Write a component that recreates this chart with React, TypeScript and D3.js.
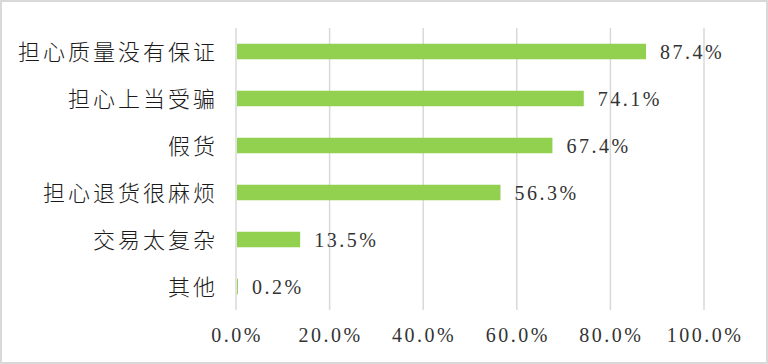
import * as d3 from "d3";
import React, { useEffect, useRef } from "react";

const categories = ["担心质量没有保证", "担心上当受骗", "假货", "担心退货很麻烦", "交易太复杂", "其他"];
const values = [87.4, 74.1, 67.4, 56.3, 13.5, 0.2];
const tickValues = [0, 20, 40, 60, 80, 100];

export default function App() {
  const ref = useRef<SVGSVGElement>(null);
  const width = 768;
  const height = 364;

  useEffect(() => {
    const svg = d3.select(ref.current);
    svg.selectAll("*").remove();

    const margin = { top: 28, right: 64, bottom: 54, left: 236 };

    const x = d3.scaleLinear().domain([0, 100]).range([margin.left, margin.left + 468]);
    const y = d3
      .scaleBand()
      .domain(categories)
      .range([margin.top, height - margin.bottom])
      .paddingInner(0.67)
      .paddingOuter(0.335);

    // marco del gráfico
    svg
      .append("rect")
      .attr("x", 1)
      .attr("y", 1)
      .attr("width", width - 2)
      .attr("height", height - 2)
      .attr("fill", "#fff")
      .attr("stroke", "#d9d9d9")
      .attr("stroke-width", 2);

    // líneas verticales
    svg
      .append("g")
      .selectAll("line")
      .data(tickValues)
      .join("line")
      .attr("x1", (d) => x(d))
      .attr("x2", (d) => x(d))
      .attr("y1", margin.top)
      .attr("y2", height - margin.bottom)
      .attr("stroke", "#d9d9d9")
      .attr("stroke-width", 1.5);

    // etiquetas del eje x
    svg
      .append("g")
      .selectAll("text")
      .data(tickValues)
      .join("text")
      .attr("x", (d) => x(d) + 1)
      .attr("y", 335)
      .attr("dy", "0.35em")
      .attr("text-anchor", "middle")
      .style("font-family", "'Liberation Serif', 'DejaVu Serif', serif")
      .style("font-size", "20px")
      .style("letter-spacing", "2.5px")
      .attr("fill", "#333")
      .text((d) => d.toFixed(1) + "%");

    // barras
    svg
      .append("g")
      .selectAll("rect")
      .data(values)
      .join("rect")
      .attr("x", x(0) + 1)
      .attr("y", (_, i) => y(categories[i])!)
      .attr("width", (d) => x(d) - x(0))
      .attr("height", y.bandwidth())
      .attr("fill", "#92d050");

    // etiquetas de valores
    svg
      .append("g")
      .selectAll("text")
      .data(values)
      .join("text")
      .attr("x", (d) => x(d) + 15)
      .attr("y", (_, i) => y(categories[i])! + y.bandwidth() / 2)
      .attr("dy", "0.35em")
      .style("font-family", "'Liberation Serif', 'DejaVu Serif', serif")
      .style("font-size", "20px")
      .style("letter-spacing", "2.5px")
      .attr("fill", "#333")
      .text((d) => d.toFixed(1) + "%");

    // etiquetas de categorías
    svg
      .append("g")
      .selectAll("text")
      .data(categories)
      .join("text")
      .attr("x", 218)
      .attr("y", (d) => y(d)! + y.bandwidth() / 2)
      .attr("dy", "0.37em")
      .attr("text-anchor", "end")
      .style("font-family", "'Noto Sans CJK SC', sans-serif")
      .style("font-size", "22px")
      .style("font-weight", 300)
      .style("letter-spacing", "3px")
      .attr("fill", "#1a1a1a")
      .text((d) => d);
  }, []);

  return (
    <div style={{ position: "absolute", left: 0, top: 0 }}>
      <svg ref={ref} width={width} height={height} style={{ display: "block" }}></svg>
    </div>
  );
}
